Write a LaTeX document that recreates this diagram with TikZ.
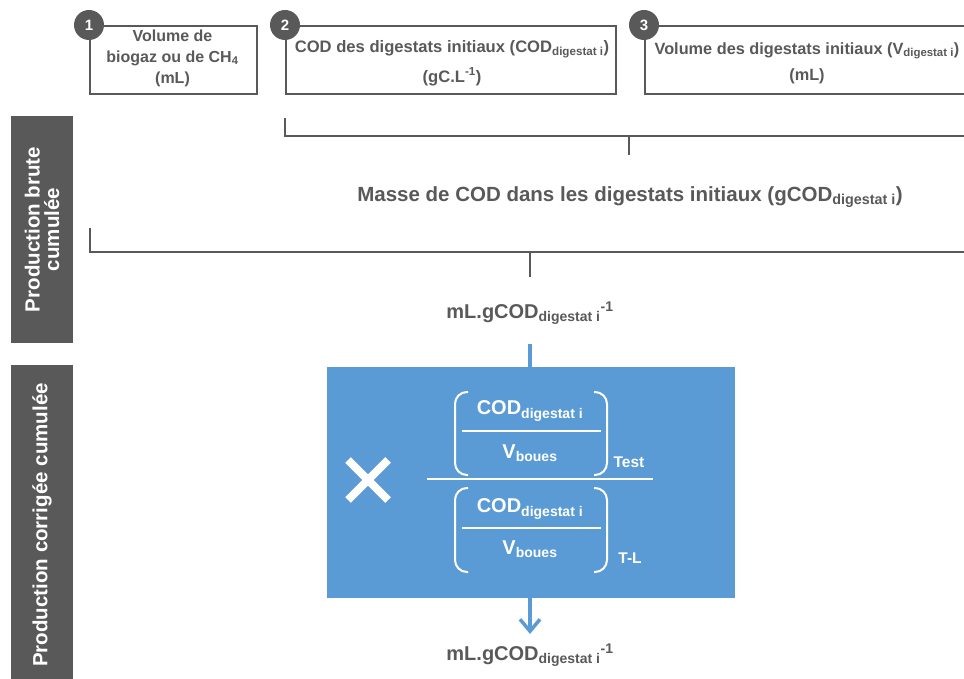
\documentclass[tikz,border=0pt]{standalone}
\usepackage{fontspec}
\setmainfont{Liberation Sans}
\usetikzlibrary{arrows.meta}
\definecolor{dgrey}{HTML}{595959}
\definecolor{myblue}{HTML}{5B9BD5}
\newcommand{\fs}[1]{\fontsize{#1}{#1}\selectfont}
\tikzset{
  inbox/.style={draw=dgrey, line width=2pt, anchor=north west, inner sep=0pt},
  intext/.style={text=dgrey, inner sep=0pt, align=center},
  numdot/.style={circle, fill=dgrey, text=white, minimum size=30pt, inner sep=0pt, font=\bfseries\fs{15}},
  brk/.style={draw=dgrey, line width=2pt},
  sidebar/.style={fill=dgrey, text=white, rotate=90, align=center, inner sep=0pt, font=\bfseries\fs{20.5}},
  gtext/.style={text=dgrey, font=\bfseries\fs{20}, inner sep=0pt},
  wtext/.style={text=white, inner sep=0pt},
  wline/.style={draw=white, line width=2pt},
  paren/.style={draw=white, line width=2pt, rounded corners=12pt},
  bline/.style={draw=myblue, line width=3.5pt}
}
\begin{document}
\begin{tikzpicture}[x=1pt,y=-1pt,font=\bfseries]
\clip (0,0) rectangle (964,679);
% side bars
\node[sidebar, minimum width=227pt, minimum height=62pt] (bar1) at (42,229.5) {Production brute\\[-1pt]cumulée};
\node[sidebar, minimum width=320pt, minimum height=62pt] (bar2) at (42,525) {Production corrigée cumulée};
% top boxes
\node[inbox, minimum width=167pt, minimum height=68pt] (b1) at (89,25) {};
\node[inbox, minimum width=330pt, minimum height=68pt] (b2) at (285,25) {};
\node[inbox, minimum width=326pt, minimum height=68pt] (b3) at (644,25) {};
\node[intext, font=\bfseries\fs{16}] (t1) at (172.5,59)
  {\begin{tabular}{@{}c@{}}Volume de\\[5pt] biogaz ou de CH\textsubscript{4}\\[5pt] (mL)\end{tabular}};
\node[intext, font=\bfseries\fs{16.6}] (t2) at (452,64)
  {\begin{tabular}{@{}c@{}}COD des digestats initiaux (COD\textsubscript{digestat i})\\[10pt] (gC.L\textsuperscript{-1})\end{tabular}};
\node[intext, font=\bfseries\fs{16.3}] (t3) at (807,64)
  {\begin{tabular}{@{}c@{}}Volume des digestats initiaux (V\textsubscript{digestat i})\\[10pt] (mL)\end{tabular}};
\node[numdot] (n1) at (b1.north west) {1};
\node[numdot] (n2) at (b2.north west) {2};
\node[numdot] (n3) at (b3.north west) {3};
% first bracket
\coordinate (k1a) at (285,118);
\coordinate (k1b) at (970,136);
\coordinate (k1c) at (629,136);
\coordinate (k1d) at (629,155);
\draw[brk] (k1a) |- (k1b);
\draw[brk] (k1c) -- (k1d);
\node[gtext, font=\bfseries\fs{20.5}] (masse) at (630,197) {Masse de COD dans les digestats initiaux (gCOD\textsubscript{digestat i})};
% second bracket
\coordinate (k2a) at (90,228);
\coordinate (k2b) at (970,252);
\coordinate (k2c) at (530,252);
\coordinate (k2d) at (530,277);
\draw[brk] (k2a) |- (k2b);
\draw[brk] (k2c) -- (k2d);
\node[gtext] (ml1) at (530,313) {mL.gCOD\textsubscript{digestat i}\textsuperscript{-1}};
% blue box
\node[fill=myblue, minimum width=408pt, minimum height=231pt, anchor=north west, inner sep=0pt] (bb) at (327,367) {};
\coordinate (bl1) at (530,344);
\draw[bline] (bl1) -- (bb.north -| bl1);
\coordinate (ar) at (530,634);
\draw[bline, -{Straight Barb[length=12pt,width=20pt]}] (bb.south -| ar) -- (ar);
\node[gtext] (ml2) at (530,655) {mL.gCOD\textsubscript{digestat i}\textsuperscript{-1}};
% cross
\draw[draw=white, line width=8pt] (348,460) -- (388,500) (388,460) -- (348,500);
% big fraction line
\draw[wline] (427,479) -- (653,479);
% upper group
\draw[paren] (468,392) -- (455,392) -- (455,475) -- (468,475);
\draw[paren] (594,392) -- (607,392) -- (607,475) -- (594,475);
\draw[wline] (462,431) -- (601,431);
\node[wtext, font=\bfseries\fs{20}] (c1) at (530,411) {COD\textsubscript{digestat i}};
\node[wtext, font=\bfseries\fs{20}] (v1) at (530,453) {V\textsubscript{boues}};
\node[wtext, font=\bfseries\fs{15.5}] (test) at (629,462) {Test};
% lower group
\draw[paren] (468,488) -- (455,488) -- (455,572) -- (468,572);
\draw[paren] (594,488) -- (607,488) -- (607,572) -- (594,572);
\draw[wline] (462,528) -- (601,528);
\node[wtext, font=\bfseries\fs{20}] (c2) at (530,509) {COD\textsubscript{digestat i}};
\node[wtext, font=\bfseries\fs{20}] (v2) at (530,549) {V\textsubscript{boues}};
\node[wtext, font=\bfseries\fs{15.5}] (tl) at (630,558) {T-L};
\end{tikzpicture}
\end{document}
